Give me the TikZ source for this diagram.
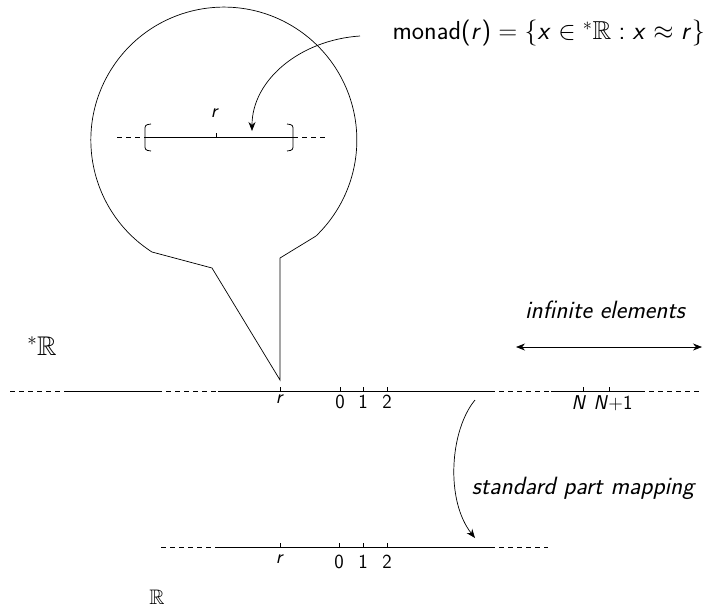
\RequirePackage{fix-cm}
\documentclass[tikz,border=0pt]{standalone}
\usepackage{amssymb}
\usetikzlibrary{arrows.meta}
\renewcommand{\familydefault}{\sfdefault}
% sans serif letters and digits in formulas
\SetSymbolFont{letters}{normal}{OT1}{cmss}{m}{sl}
\SetSymbolFont{operators}{normal}{OT1}{cmss}{m}{n}

\begin{document}
\begin{tikzpicture}[
    x=1pt, y=-1pt,
    axis/.style={line width=0.9pt},
    dots/.style={line width=0.9pt, dash pattern=on 5pt off 4pt},
    tick/.style={line width=0.7pt},
    ticklabel/.style={anchor=north, inner sep=2pt, font=\fontsize{20}{23}\selectfont},
    caption/.style={font=\fontsize{25}{29}\selectfont\itshape},
    setname/.style={font=\fontsize{26}{31}\selectfont},
    arrow/.style={line width=0.7pt, -{Stealth[length=9pt, width=7pt]}}
  ]
    \useasboundingbox (0,0) rectangle (708,614);

    % hyperreal line
    \draw[dots] (10,391) -- (68,391);
    \draw[axis] (68,391) -- (157,391);
    \draw[dots] (157,391) -- (218,391);
    \draw[axis] (218,391) -- (490,391);
    \draw[dots] (490,391) -- (551,391);
    \draw[axis] (551,391) -- (640,391);
    \draw[dots] (640,391) -- (700,391);
    \foreach \x/\t/\n in {280/r/ur, 340/0/uzero, 363/1/uone, 387/2/utwo} {
      \draw[tick] (\x,391) -- (\x,387);
      \node[ticklabel] (\n) at (\x,393) {$\t$};
    }
    \draw[tick] (583,391) -- (583,387);
    \draw[tick] (609,391) -- (609,387);
    \node[ticklabel] (uN) at (579,393) {$N$};
    \node[ticklabel] (uNone) at (613,393) {$N{+}1$};

    % real line
    \draw[dots] (161,547) -- (217,547);
    \draw[axis] (217,547) -- (490,547);
    \draw[dots] (490,547) -- (548,547);
    \foreach \x/\t/\n in {280/r/lr, 339/0/lzero, 363/1/lone, 387/2/ltwo} {
      \draw[tick] (\x,547) -- (\x,543);
      \node[ticklabel] (\n) at (\x,553) {$\t$};
    }

    \node[setname, font=\fontsize{27}{32}\selectfont] (hyper) at (42,346) {${}^*\mathbb{R}$};
    \node[setname, font=\fontsize{21}{25}\selectfont] (real) at (157,597) {$\mathbb{R}$};

    % magnifying balloon
    \draw[line width=0.7pt] (280,380) -- (212,268) -- (152,252)
      arc[start angle=122.7, end angle=406.2, radius=133] -- (280,258) -- cycle;

    % monad inside the balloon
    \draw[dots] (117,137) -- (145,137);
    \draw[axis] (145,137) -- (293,137);
    \draw[dots] (293,137) -- (325,137);
    \draw[line width=0.8pt, rounded corners=2.5pt] (151,124) -- (145,125) -- (145,150) -- (151,151);
    \draw[line width=0.8pt, rounded corners=2.5pt] (287,124) -- (293,125) -- (293,150) -- (287,151);
    \draw[tick] (216,137) -- (216,133);
    \node[ticklabel, anchor=south] (mr) at (215,120) {$r$};

    % labels and arrows
    \node[setname, anchor=east, inner sep=0pt] (monad) at (705,33) {monad$(r)=\{x\in{}^*\mathbb{R} : x\approx r\}$};
    \coordinate (mstart) at (360,36);
    \coordinate (mend) at (252,131);
    \draw[arrow] (mstart) .. controls (300,40) and (252,80) .. (mend);

    \node[caption] (infinite) at (605,310) {infinite elements};
    \coordinate (ileft) at (516,347);
    \coordinate (iright) at (702,347);
    \draw[line width=0.7pt, {Stealth[length=9pt, width=7pt]}-{Stealth[length=9pt, width=7pt]}] (ileft) -- (iright);

    \node[caption] (stpart) at (583,488) {standard part mapping};
    \coordinate (sstart) at (475,400);
    \coordinate (send) at (475,538);
    \draw[arrow] (sstart) .. controls (450,430) and (445,500) .. (send);
  \end{tikzpicture}
\end{document}
